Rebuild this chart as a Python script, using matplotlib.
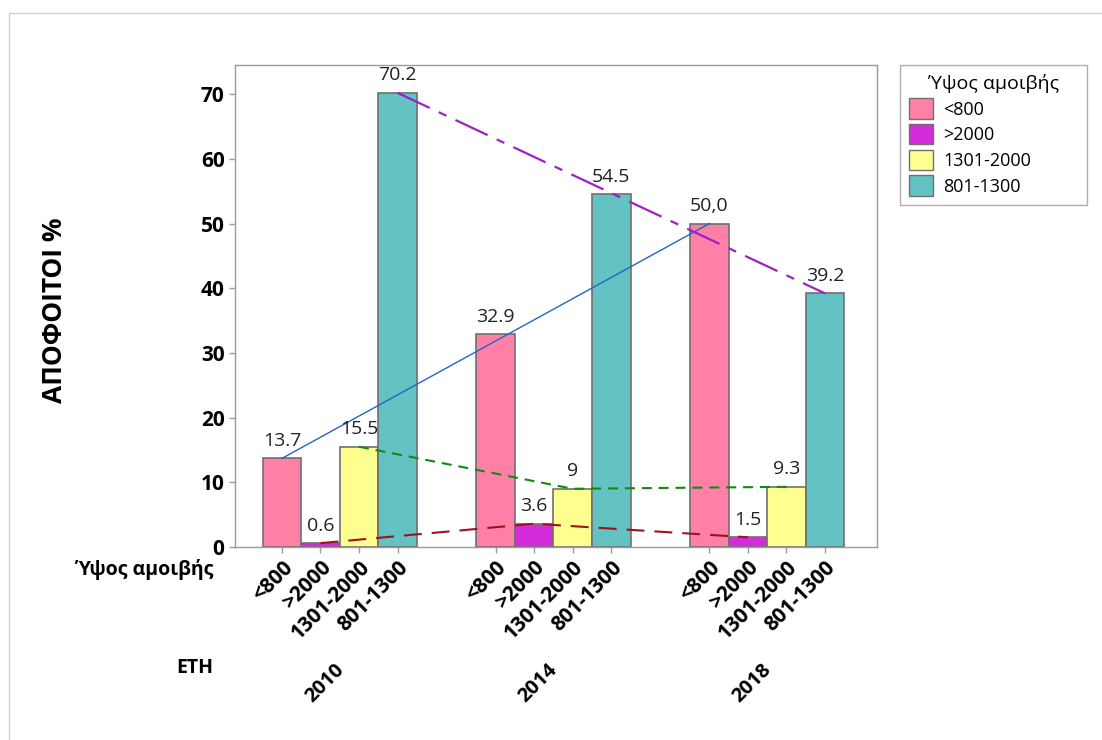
from matplotlib import pyplot as plt
from matplotlib.patches import Patch, Rectangle
import numpy as np

plt.rcParams['font.family'] = ['Open Sans', 'DejaVu Sans']

years = ['2010', '2014', '2018']
categories = ['<800', '>2000', '1301-2000', '801-1300']
# values per category, one per year
lt800 = [13.7, 32.9, 50.0]
gt2000 = [0.6, 3.6, 1.5]
mid_high = [15.5, 9.0, 9.3]
mid_low = [70.2, 54.5, 39.2]
# value labels as printed on the chart
labels_lt800 = ['13.7', '32.9', '50,0']
labels_gt2000 = ['0.6', '3.6', '1.5']
labels_mid_high = ['15.5', '9', '9.3']
labels_mid_low = ['70.2', '54.5', '39.2']

series = [lt800, gt2000, mid_high, mid_low]
series_labels = [labels_lt800, labels_gt2000, labels_mid_high, labels_mid_low]
colors = ['#FF80A7', '#D42BDB', '#FFFF8F', '#63C2C2']
edge = '#707070'

fig = plt.figure(figsize=(11.02, 7.40), dpi=100)
ax = fig.add_axes([235 / 1102, 1 - 547 / 740, 642 / 1102, 482 / 740])

group_step = 5.55
width = 1.0
tick_pos = []
tick_lab = []
for g in range(len(years)):
    for j in range(len(categories)):
        tick_pos.append(g * group_step + j)
        tick_lab.append(categories[j])

for j, (vals, labs) in enumerate(zip(series, series_labels)):
    xs = np.arange(len(years)) * group_step + j
    ax.bar(xs, vals, width=width, color=colors[j], edgecolor=edge, linewidth=1.2, zorder=2)
    for x, v, t in zip(xs, vals, labs):
        ax.annotate(t, (x, v), xytext=(0, 6), textcoords='offset points',
                    ha='center', va='bottom', fontsize=14, color='#222222', zorder=4)

# connecting lines
xs0 = np.arange(len(years)) * group_step
ax.plot([xs0[0], xs0[-1]], [lt800[0], lt800[-1]], color='#2466C2', lw=1.0, zorder=3)
ax.plot(xs0 + 1, gt2000, color='#A01020', lw=1.5, linestyle=(0, (8.6, 4.8)), zorder=3)
ax.plot(xs0 + 2, mid_high, color='#128A12', lw=1.5, linestyle=(0, (4.8, 3.3)), zorder=3)
ax.plot([xs0[0] + 3, xs0[-1] + 3], [mid_low[0], mid_low[-1]], color='#A020C8', lw=1.6,
        linestyle=(0, (16, 4.5, 3.8, 4.5)), zorder=3)

ax.set_xlim(-1.22, 15.45)
ax.set_ylim(0, 74.5)
ax.set_yticks(np.arange(0, 71, 10))
ax.set_xticks(tick_pos)
ax.set_xticklabels(tick_lab, rotation=45, ha='right', va='top', rotation_mode='anchor',
                   fontsize=15, fontweight='bold')
for lab in ax.get_yticklabels():
    lab.set_fontsize(15)
    lab.set_fontweight('bold')
ax.tick_params(axis='both', colors='#9a9a9a', length=4, width=1, labelcolor='black')
ax.tick_params(axis='x', pad=3)
for s in ax.spines.values():
    s.set_color('#9a9a9a')
    s.set_linewidth(1)

# year labels
for g, y in enumerate(years):
    ax.text(g * group_step + 1.35, -0.234, y, transform=ax.get_xaxis_transform(),
            rotation=45, ha='right', va='top', rotation_mode='anchor',
            fontsize=14.5, fontweight='bold')

fig.text(55 / 1102, 1 - 310 / 740, 'ΑΠΟΦΟΙΤΟΙ %', rotation=90, ha='center', va='center',
         fontsize=19, fontweight='bold')
fig.text(213 / 1102, 1 - 570 / 740, 'Ύψος αμοιβής', ha='right', va='center',
         fontsize=14, fontweight='bold')
fig.text(213 / 1102, 1 - 668 / 740, 'ΕΤΗ', ha='right', va='center',
         fontsize=14, fontweight='bold')

handles = [Patch(facecolor=c, edgecolor=edge, label=l) for c, l in zip(colors, categories)]
leg = fig.legend(handles=handles, title='Ύψος αμοιβής', loc='upper left',
                 bbox_to_anchor=(900 / 1102, 1 - 207 / 740, 187 / 1102, 142 / 740),
                 mode='expand', fontsize=13, title_fontsize=14,
                 fancybox=False, frameon=True, handlelength=1.3, handleheight=1.35,
                 borderpad=0.5, labelspacing=0.3, handletextpad=0.6, borderaxespad=0)
leg.get_frame().set_edgecolor('#9a9a9a')
leg.get_frame().set_linewidth(1)

# outer border
fig.add_artist(Rectangle((9 / 1102, -0.1), 1.2, 1.1 - 13 / 740, transform=fig.transFigure,
                         fill=False, edgecolor='#d0d0d0', lw=1))

fig.savefig('out.png', dpi=100)
